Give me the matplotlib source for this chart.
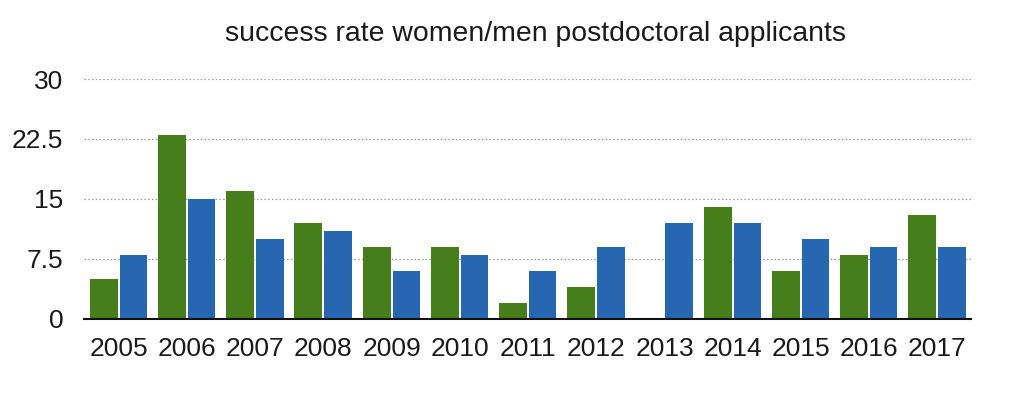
import matplotlib
matplotlib.use("Agg")
import matplotlib.pyplot as plt
import numpy as np

years = ["2005", "2006", "2007", "2008", "2009", "2010", "2011",
         "2012", "2013", "2014", "2015", "2016", "2017"]
women = [5, 23, 16, 12, 9, 9, 2, 4, 0, 14, 6, 8, 13]
men = [8, 15, 10, 11, 6, 8, 6, 9, 12, 12, 10, 9, 9]
yticks = [0, 7.5, 15, 22.5, 30]
ytick_labels = ["0", "7.5", "15", "22.5", "30"]
title = "success rate women/men postdoctoral applicants"

fig = plt.figure(figsize=(10.16, 4.09), dpi=100)
ax = fig.add_axes([0.0827, 0.2208, 0.8727, 0.586])

x = np.arange(len(years))
green = "#467e1b"
blue = "#2767b2"
ax.bar(x - 0.22, women, width=0.41, color=green, zorder=3)
ax.bar(x + 0.215, men, width=0.40, color=blue, zorder=3)

ax.set_xlim(-0.51, 12.49)
ax.set_ylim(0, 30)
ax.set_yticks(yticks)
ax.set_yticklabels(ytick_labels, family="Liberation Sans", fontsize=19, color="#1a1a1a")
ax.set_xticks(x)
ax.set_xticklabels(years, family="Liberation Sans", fontsize=19, color="#1a1a1a")
ax.tick_params(axis="both", length=0)
ax.tick_params(axis="y", pad=15)
ax.tick_params(axis="x", pad=13)

for s in ["top", "right", "left"]:
    ax.spines[s].set_visible(False)
ax.spines["bottom"].set_color("#111111")
ax.spines["bottom"].set_linewidth(1.5)
ax.spines["bottom"].set_zorder(4)

for yv in yticks[1:]:
    ax.axhline(yv, color="#9a9a9a", linestyle=(0, (1.2, 1.8)), linewidth=0.9, zorder=1)

fig.text(0.5275, 0.917, title, ha="center", va="center", family="Liberation Sans",
         fontsize=20.4, color="#1a1a1a")

fig.savefig("out.png", dpi=100)
